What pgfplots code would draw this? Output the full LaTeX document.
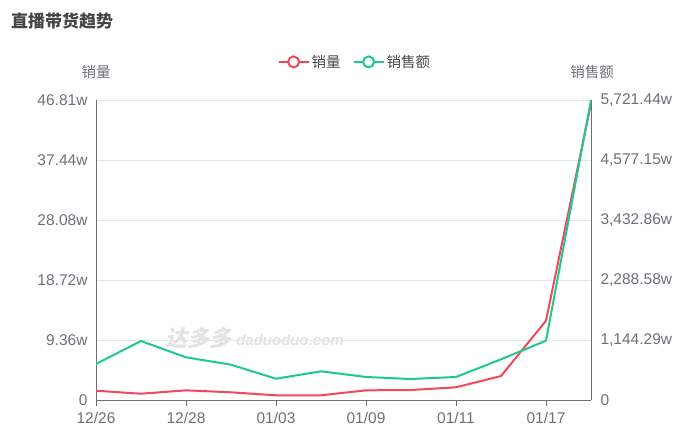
\documentclass[border=0pt]{standalone}
\usepackage{pgfplots}
\pgfplotsset{compat=1.18}
\usepackage{fontspec}
\setmainfont{Noto Sans CJK SC}
\newfontfamily\lib{Liberation Sans}
\definecolor{cred}{HTML}{F5475C}
\definecolor{cgreen}{HTML}{1CC98F}
\definecolor{txt}{HTML}{6E7079}
\definecolor{axl}{HTML}{6E7079}
\definecolor{gridc}{HTML}{E0E6F1}
\definecolor{ttl}{HTML}{464646}
\definecolor{wm}{HTML}{E2E2E2}
\pgfplotsset{
  base/.style={
    at={(96pt,37pt)}, anchor=south west, scale only axis,
    width=495pt, height=300pt, xmin=0, xmax=11,
    axis line style={-, axl, line width=0.8pt},
    every outer x axis line/.append style={-},
    every outer y axis line/.append style={-},
    tick label style={font=\lib\fontsize{15.5}{16}\selectfont, text=txt},
    /pgf/number format/assume math mode=true,
  },
}
\begin{document}
\begin{tikzpicture}[x=1pt,y=1pt]
\path[use as bounding box] (0,0) rectangle (695,437);
\node[anchor=west, text=ttl, font=\fontsize{17}{18}\selectfont\bfseries, inner sep=0pt] at (11,416) {直播带货趋势};
\node[text=wm, font=\fontsize{22}{22}\selectfont\bfseries, xslant=0.25] at (201,99) {达多多};
\node[text=wm, font=\lib\fontsize{15}{15}\selectfont\itshape\bfseries] at (290,97) {daduoduo.com};
\begin{axis}[base,
  axis y line*=left, axis x line*=bottom,
  ymin=0, ymax=46.81,
  ytick={0,9.362,18.724,28.086,37.448,46.81},
  yticklabels={0,9.36w,18.72w,28.08w,37.44w,46.81w},
  ymajorgrids, grid style={gridc, line width=0.8pt},
  ytick style={draw=none},
  xtick={0,2,4,6,8,10},
  xticklabels={12/26,12/28,01/03,01/09,01/11,01/17},
  xtick style={axl, line width=0.8pt},
  xtick align=outside, major tick length=6pt,
  xticklabel style={yshift=-3pt},
  yticklabel style={xshift=-5pt},
]
\addplot[cred, line width=2pt, no markers] coordinates {
(0,1.45) (1,0.98) (2,1.51) (3,1.20) (4,0.73) (5,0.73)
(6,1.51) (7,1.56) (8,1.98) (9,3.74) (10,12.37) (11,46.3)};
\end{axis}
\begin{axis}[base,
  axis y line*=right, axis x line=none,
  ymin=0, ymax=5721.44,
  ytick={0,1144.288,2288.576,3432.864,4577.152,5721.44},
  yticklabels={0,{1,144.29w},{2,288.58w},{3,432.86w},{4,577.15w},{5,721.44w}},
  ytick style={draw=none},
  yticklabel style={xshift=6pt},
  legend columns=2,
  legend style={at={(0.523,1.127)}, anchor=center, draw=none, fill=none,
    font=\fontsize{14.5}{15}\selectfont, text=ttl,
    /tikz/every even column/.append style={column sep=10pt}},
  legend cell align=left,
]
\addlegendimage{cred, legend image code/.code={\draw[cred, line width=2pt] (0pt,0pt) -- (30pt,0pt); \draw[cred, line width=2pt, fill=white] (15pt,0pt) circle (5.5pt);}}
\addlegendentry{销量}
\addplot[cgreen, line width=2pt, no markers,
  legend image code/.code={\draw[cgreen, line width=2pt] (0pt,0pt) -- (30pt,0pt); \draw[cgreen, line width=2pt, fill=white] (15pt,0pt) circle (5.5pt);}] coordinates {
(0,687) (1,1125) (2,814) (3,673) (4,406) (5,547)
(6,439) (7,400) (8,439) (9,776) (10,1131) (11,5721.44)};
\addlegendentry{销售额}
\end{axis}
\node[text=txt, font=\fontsize{14.5}{15}\selectfont] at (96,365) {销量};
\node[text=txt, font=\fontsize{14.5}{15}\selectfont] at (592,365) {销售额};
\end{tikzpicture}
\end{document}
